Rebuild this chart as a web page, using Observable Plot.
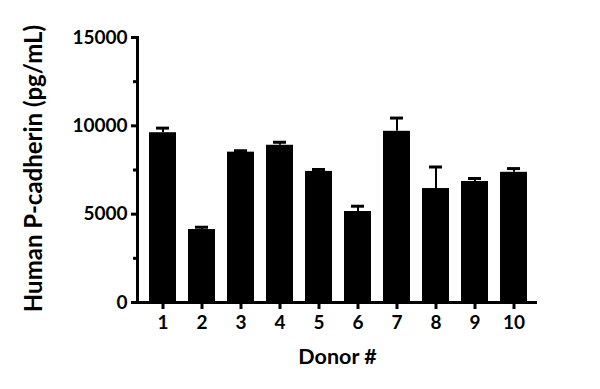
<!DOCTYPE html>
<html>
<head>
<meta charset="utf-8">
<script src="https://cdn.jsdelivr.net/npm/d3@7"></script>
<script src="https://cdn.jsdelivr.net/npm/@observablehq/plot@0.6"></script>
<style>
  html, body { margin: 0; padding: 0; background: #fff; }
  #chart svg { display: block; }
</style>
</head>
<body>
<div id="chart"></div>
<script>
const donors = ["1", "2", "3", "4", "5", "6", "7", "8", "9", "10"];
const means  = [9610, 4130, 8510, 8900, 7420, 5150, 9690, 6450, 6850, 7370];
const errors = [260, 130, 80, 170, 110, 300, 750, 1220, 170, 210];
const majorTicks = [0, 5000, 10000, 15000];
const minorTicks = [2500, 7500, 12500];
const yTitle = "Human P-cadherin (pg/mL)";
const xTitle = "Donor #";

const data = donors.map((d, i) => ({donor: d, value: means[i], top: means[i] + errors[i]}));
const font = "Lato, sans-serif";

const chart = Plot.plot({
  width: 600,
  height: 389,
  marginLeft: 137,
  marginRight: 63,
  marginTop: 37,
  marginBottom: 87,
  style: {fontFamily: font, fontWeight: "bold", fontSize: "19px", color: "#000", background: "#fff"},
  x: {domain: donors, paddingInner: 0.32, paddingOuter: 0.16, insetLeft: 2},
  y: {domain: [0, 15000]},
  marks: [
    Plot.barY(data, {x: "donor", y: "value", fill: "#000"}),
    Plot.ruleX(data, {x: "donor", y1: "value", y2: "top", stroke: "#000", strokeWidth: 2}),
    Plot.tickY(data, {x: "donor", y: "top", stroke: "#000", strokeWidth: 3, insetLeft: 7, insetRight: 7}),
    Plot.frame({anchor: "left", stroke: "#000", strokeWidth: 3}),
    Plot.ruleY([0], {stroke: "#000", strokeWidth: 3, insetLeft: -4}),
    Plot.axisY({ticks: majorTicks, tickSize: 6, tickPadding: 4, tickFormat: d => String(d), strokeWidth: 3, fontSize: 19, label: null}),
    Plot.axisY({ticks: minorTicks, tickSize: 4, tickFormat: null, text: null, strokeWidth: 3, label: null}),
    Plot.axisX({tickSize: 7, tickPadding: 6, strokeWidth: 3, fontSize: 19, label: null}),
    Plot.text([yTitle], {frameAnchor: "left", textAnchor: "middle", lineAnchor: "middle", dx: -103, dy: -1.5, rotate: -90, fontSize: 24, fontWeight: "bold"}),
    Plot.text([xTitle], {frameAnchor: "bottom", textAnchor: "middle", lineAnchor: "middle", dy: 55, fontSize: 21.5, fontWeight: "bold"})
  ]
});
document.getElementById("chart").appendChild(chart);
</script>
</body>
</html>
